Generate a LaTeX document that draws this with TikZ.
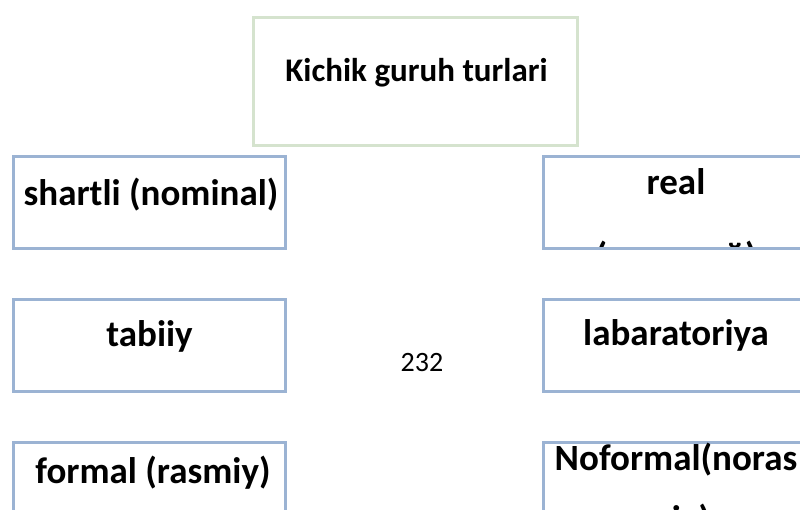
\documentclass[tikz,border=0pt]{standalone}
\usepackage{fontspec}
\setmainfont{Carlito}
\usepackage{tikz}
\usetikzlibrary{positioning,backgrounds}
\definecolor{titlecolor}{RGB}{213,227,206}
\definecolor{kindcolor}{RGB}{155,179,211}

\begin{document}
\begin{tikzpicture}[x=1pt, y=-1pt,
			title/.style={draw=titlecolor, line width=3pt, minimum width=324pt, minimum height=128pt, inner sep=0pt, outer sep=0pt},
			kind/.style={draw=kindcolor, line width=3pt, minimum width=272pt, minimum height=92pt, inner sep=0pt, outer sep=0pt},
			kindtext/.style={anchor=base, inner sep=0pt, font=\fontsize{37}{44}\selectfont\bfseries},
		]
		\useasboundingbox (0,0) rectangle (800,509);
		\clip (0,0) rectangle (800,509);

		\node[title] (turlar) at (415,81) {};
		\node[kind] (shartli) at (149,202) {};
		\node[kind] (tabiiy)  [below=51pt of shartli] {};
		\node[kind] (formal)  [below=51pt of tabiiy] {};
		\node[kind, minimum width=266pt] (real) [right=258pt of shartli] {};
		\node[kind, minimum width=266pt] (lab)  [right=258pt of tabiiy] {};
		\node[kind, minimum width=266pt] (noformal) [right=258pt of formal] {};

		\node[anchor=base, inner sep=0pt, font=\fontsize{33}{40}\selectfont\bfseries] (turlarT) at (416.5,81.5) {Kichik guruh turlari};
		\node[kindtext] (shartliT) at (151,205) {shartli (nominal)};
		\node[kindtext] (tabiiyT)  at (149.5,346) {tabiiy};
		\node[kindtext] (formalT)  at (153,483) {formal (rasmiy)};
		\node[kindtext] (labT)     at (676,345) {labaratoriya};
		\node[anchor=base, inner sep=0pt, font=\fontsize{28}{34}\selectfont] (sahifa) at (422,371) {232};

		% two-line texts: base is the last line
		\begin{scope}[on background layer]
			\clip (real.north west) rectangle (real.south east);
			\node[kindtext, align=center, font=\fontsize{37}{74}\selectfont\bfseries] (realT) at (676,268) {real\\(ҳақиқий)};
		\end{scope}
		\node[kindtext, align=center, font=\fontsize{37}{61}\selectfont\bfseries] (noformalT) at (676,531) {Noformal(noras\\miy)};

\end{tikzpicture}
\end{document}
